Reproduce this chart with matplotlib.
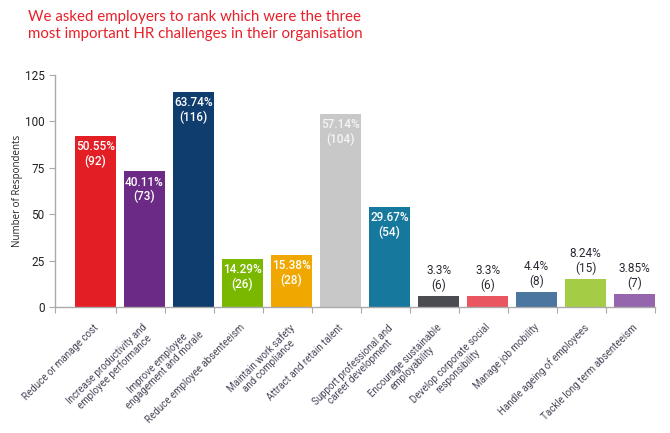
import matplotlib
matplotlib.use("Agg")
import matplotlib.pyplot as plt

# data
categories = [
    "Reduce or manage cost",
    "Increase productivity and\nemployee performance",
    "Improve employee\nengagement and morale",
    "Reduce employee absenteeism",
    "Maintain work safety\nand compliance",
    "Attract and retain talent",
    "Support professional and\ncareer development",
    "Encourage sustainable\nemployability",
    "Develop corporate social\nresponsibility",
    "Manage job mobility",
    "Handle ageing of employees",
    "Tackle long term absenteeism",
]
counts = [92, 73, 116, 26, 28, 104, 54, 6, 6, 8, 15, 7]
percents = ["50.55%", "40.11%", "63.74%", "14.29%", "15.38%", "57.14%",
            "29.67%", "3.3%", "3.3%", "4.4%", "8.24%", "3.85%"]
colors = ["#e31e24", "#6b2a86", "#0e3d6e", "#7ab800", "#f0a800", "#c8c8c8",
          "#16789c", "#4a4c51", "#e9565f", "#4a76a0", "#a4cc45", "#9565ae"]
y_ticks = [0, 25, 50, 75, 100, 125]

title = ("We asked employers to rank which were the three\n"
         "most important HR challenges in their organisation")

fig = plt.figure(figsize=(6.7, 4.33), dpi=100)
ax = fig.add_axes([0.082, 0.291, 0.896, 0.536])

x = list(range(len(categories)))
bar_w = 0.84
bars = ax.bar([i + (1 - bar_w) / 2 for i in x], counts, width=bar_w, color=colors)

ax.set_ylim(0, 125)
ax.set_xlim(-0.745, len(categories) - 0.5)

# value labels: inside tall bars, above short ones
for i, (b, c, p) in enumerate(zip(bars, counts, percents)):
    cx = b.get_x() + b.get_width() / 2
    txt = f"{p}\n({c})"
    if c >= 20:
        col = "#f4f4f4" if i == 5 else "white"
        ax.annotate(txt, (cx, c), xytext=(0, -3), textcoords="offset points",
                    ha="center", va="top", color=col, fontsize=8.5,
                    fontfamily="Roboto", fontweight="medium", linespacing=1.15)
    else:
        ax.annotate(txt, (cx, c), xytext=(0, 3), textcoords="offset points",
                    ha="center", va="bottom", color="#2a2a35", fontsize=8.5,
                    fontfamily="Roboto", linespacing=1.15)

# ticks at category boundaries, labels at category centres
ax.set_xticks([-0.745] + [i + 0.5 for i in x])
ax.set_xticklabels([])
ax.tick_params(axis="x", length=4, color="#aaaaaa")
for i, lab in enumerate(categories):
    ax.annotate(lab, (i, 0), xytext=(1, -11), textcoords="offset points",
                rotation=45, rotation_mode="anchor", ha="right", va="top",
                multialignment="center", fontsize=7, color="#4a4458",
                fontfamily="Roboto", linespacing=1.05,
                annotation_clip=False)

ax.set_yticks(y_ticks)
ax.tick_params(axis="y", length=4, color="#aaaaaa", labelsize=8.5,
               labelcolor="#222222")
for lab in ax.get_yticklabels():
    lab.set_fontfamily("Roboto")
ax.set_ylabel("Number of Respondents", fontsize=7, color="#222222",
              fontfamily="Open Sans", labelpad=1)

for s in ["top", "right"]:
    ax.spines[s].set_visible(False)
for s in ["left", "bottom"]:
    ax.spines[s].set_color("#aaaaaa")
    ax.spines[s].set_linewidth(1.0)

fig.text(28 / 670, 1 - 10 / 433, title, ha="left", va="top", color="#e8202a",
         fontsize=10.8, fontfamily="Lato", linespacing=1.3)

fig.savefig("out.png", dpi=100)
